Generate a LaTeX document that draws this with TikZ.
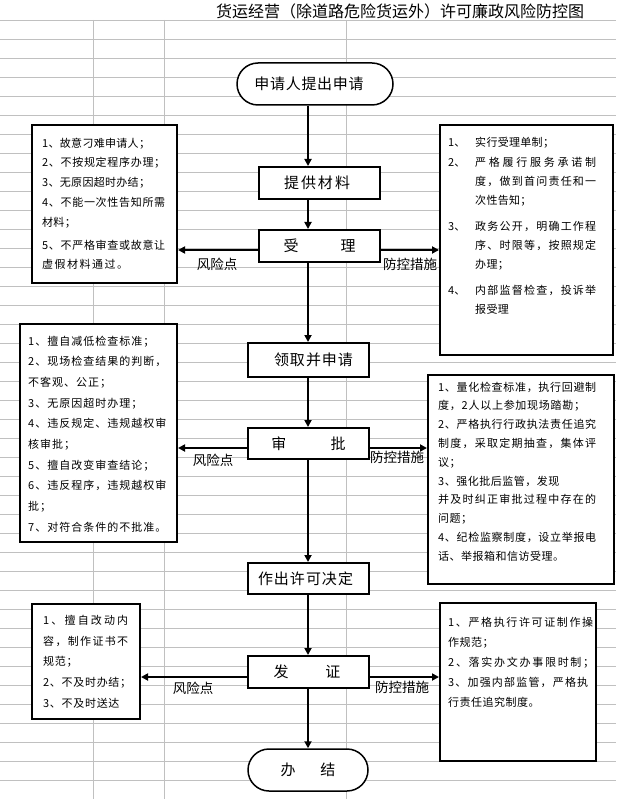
\documentclass[tikz,border=0pt]{standalone}
\usepackage{fontspec}
\setmainfont{Noto Sans CJK SC}
\usetikzlibrary{arrows.meta}
\definecolor{gridc}{RGB}{192,192,192}
\newdimen\cjkgap
\def\sprg#1#2\relax{#1\ifx\relax#2\relax\else\hskip\cjkgap plus 1fil\relax\sprg#2\relax\fi}
\newcommand\lnat[1]{\hbox{\sprg#1\relax}}
\newcommand\lwid[2]{\hbox to #1{\sprg#2\relax}}
\newcommand\lnum[2]{\hbox{\llap{\hbox to 27pt{#1\hfil}}\sprg#2\relax}}
\newcommand\lnumw[3]{\hbox to #2{\llap{\hbox to 27pt{#1\hfil}}\sprg#3\relax}}
\tikzset{
  gridline/.style={draw=gridc, line width=0.8pt},
  box/.style={draw, line width=2pt, fill=white, inner sep=0pt, minimum width=121pt, font=\fontsize{15}{18}\selectfont},
  term/.style={draw, line width=1.5pt, fill=white, rounded corners=21pt, inner sep=0pt, font=\fontsize{15}{18}\selectfont},
  listbox/.style={draw, line width=2pt, fill=white, inner sep=0pt},
  listtxt/.style={anchor=base west, inner sep=0pt, font=\fontsize{11}{20}\selectfont},
  arr/.style={line width=2pt, -{Triangle[length=7pt,width=7pt]}},
  lab/.style={inner sep=0pt, font=\fontsize{13.5}{16}\selectfont}
}
\begin{document}
\begin{tikzpicture}[x=1pt,y=-1pt]
\useasboundingbox (0,0) rectangle (616,799);
% spreadsheet grid
\foreach \k in {0,...,41} \draw[gridline] (0,20+19*\k) -- (616,20+19*\k);
\foreach \xx in {93,164} \draw[gridline] (\xx,20) -- (\xx,799);
\draw[gridline] (346,20) -- (346,799);

% title
\node[font=\fontsize{16}{19}\selectfont, inner sep=0pt] (title) at (400,11) {货运经营（除道路危险货运外）许可廉政风险防控图};

% main flow
\node[term, minimum width=156pt, minimum height=42pt] (start) at (315,84) {\cjkgap=0.7pt\relax\lnat{申请人提出申请}\kern12pt};
\node[box, minimum height=32pt] (p1) at (319.5,183) {\cjkgap=2pt\relax\lnat{提供材料}\kern5pt};
\node[box, minimum height=32pt] (p2) at (319.5,246) {受\hspace{42pt}理};
\node[box, minimum height=34pt] (p3) at (308.5,360) {\kern10pt\cjkgap=1pt\relax\lnat{领取并申请}};
\node[box, minimum height=31pt] (p4) at (308.5,443.5) {审\hspace{44.5pt}批};
\node[box, minimum height=31pt] (p5) at (308.5,578.5) {\cjkgap=1pt\relax\lnat{作出许可决定}\kern6pt};
\node[box, minimum height=32pt] (p6) at (308.5,672) {发\hspace{36.7pt}证\kern3pt};
\node[term, minimum width=120pt, minimum height=42pt] (end) at (308,770) {办\hspace{25pt}结};

% side boxes
\node[listbox, minimum width=145pt, minimum height=158pt] (lb1) at (104.5,204) {};
\node[listbox, minimum width=173pt, minimum height=230pt] (rb1) at (526.5,240) {};
\node[listbox, minimum width=157pt, minimum height=218pt] (lb2) at (98.5,433) {};
\node[listbox, minimum width=186pt, minimum height=209pt] (rb2) at (521,479.5) {};
\node[listbox, minimum width=108pt, minimum height=115pt] (lb3) at (86,661.5) {};
\node[listbox, minimum width=156pt, minimum height=158pt] (rb3) at (518,682) {};

% side box texts
\node[listtxt] (t1) at (42,147.2) {\vtop{\baselineskip=19.8pt\cjkgap=0.3pt
  \lnat{1、故意刁难申请人；}
  \lwid{123pt}{2、不按规定程序办理；}
  \lnat{3、无原因超时办结；}
  \lwid{123pt}{4、不能一次性告知所需}
  \lnat{材料；}
  \vskip3pt
  \lwid{123pt}{5、不严格审查或故意让}
  \lwid{86pt}{虚假材料通过。}}};
\node[listtxt] (t2) at (475,147) {\vtop{\baselineskip=19.3pt\cjkgap=0.3pt
  \lnum{1、}{实行受理单制；}
  \lnumw{2、}{121pt}{严格履行服务承诺制}
  \lwid{121pt}{度，做到首问责任和一}
  \lnat{次性告知；}
  \vskip6pt
  \lnumw{3、}{121pt}{政务公开，明确工作程}
  \lwid{121pt}{序、时限等，按照规定}
  \lnat{办理；}
  \vskip6pt
  \lnumw{4、}{121pt}{内部监督检查，投诉举}
  \lnat{报受理}}};
\node[listtxt] (t3) at (28,345) {\vtop{\baselineskip=20.67pt\cjkgap=1pt
  \lnat{1、擅自减低检查标准；}
  \lnat{2、现场检查结果的判断，}
  \lnat{不客观、公正；}
  \lnat{3、无原因超时办理；}
  \lwid{137pt}{4、违反规定、违规越权审}
  \lnat{核审批；}
  \lnat{5、擅自改变审查结论；}
  \lwid{137pt}{6、违反程序，违规越权审}
  \lnat{批；}
  \lnat{7、对符合条件的不批准。}}};
\node[listtxt] (t4) at (438,391) {\vtop{\baselineskip=18.8pt\cjkgap=0.5pt
  \lwid{158pt}{1、量化检查标准，执行回避制}
  \lwid{147pt}{度，2人以上参加现场踏勘；}
  \lwid{158pt}{2、严格执行行政执法责任追究}
  \lwid{158pt}{制度，采取定期抽查，集体评}
  \lnat{议；}
  \lnat{3、强化批后监管，发现}
  \lwid{158pt}{并及时纠正审批过程中存在的}
  \lnat{问题；}
  \lwid{158pt}{4、纪检监察制度，设立举报电}
  \lnat{话、举报箱和信访受理。}}};
\node[listtxt] (t5) at (43,624.2) {\vtop{\baselineskip=20.8pt\cjkgap=0.7pt
  \lwid{85pt}{1、擅自改动内}
  \lwid{85pt}{容，制作证书不}
  \lnat{规范；}
  \lnat{2、不及时办结；}
  \lnat{3、不及时送达}}};
\node[listtxt] (t6) at (448,626) {\vtop{\baselineskip=20.15pt\cjkgap=0.5pt
  \lwid{145pt}{1、严格执行许可证制作操}
  \lnat{作规范；}
  \lwid{146pt}{2、落实办文办事限时制；}
  \lwid{140pt}{3、加强内部监管，严格执}
  \lnat{行责任追究制度。}}};

% connectors
\coordinate (col) at (308,0);
\coordinate (y1) at (0,250);
\coordinate (y2) at (0,448);
\coordinate (y3) at (0,677);
\draw[arr] (start.south -| col) -- (p1.north -| col);
\draw[arr] (p1.south -| col) -- (p2.north -| col);
\draw[arr] (p2.south -| col) -- (p3.north -| col);
\draw[arr] (p3.south -| col) -- (p4.north -| col);
\draw[arr] (p4.south -| col) -- (p5.north -| col);
\draw[arr] (p5.south -| col) -- (p6.north -| col);
\draw[arr] (p6.south -| col) -- (end.north -| col);
\draw[arr] (p2.west |- y1) -- (lb1.east |- y1);
\draw[arr] (p2.east |- y1) -- (rb1.west |- y1);
\draw[arr] (p4.west |- y2) -- (lb2.east |- y2);
\draw[arr] (p4.east |- y2) -- (rb2.west |- y2);
\draw[arr] (p6.west |- y3) -- (lb3.east |- y3);
\draw[arr] (p6.east |- y3) -- (rb3.west |- y3);

% labels
\node[lab] (r1) at (217,264) {风险点};
\node[lab] (c1) at (410,264) {防控措施};
\node[lab] (r2) at (213,460) {风险点};
\node[lab] (c2) at (397,457) {防控措施};
\node[lab] (r3) at (193,688) {风险点};
\node[lab] (c3) at (402,687) {防控措施};
\end{tikzpicture}
\end{document}
